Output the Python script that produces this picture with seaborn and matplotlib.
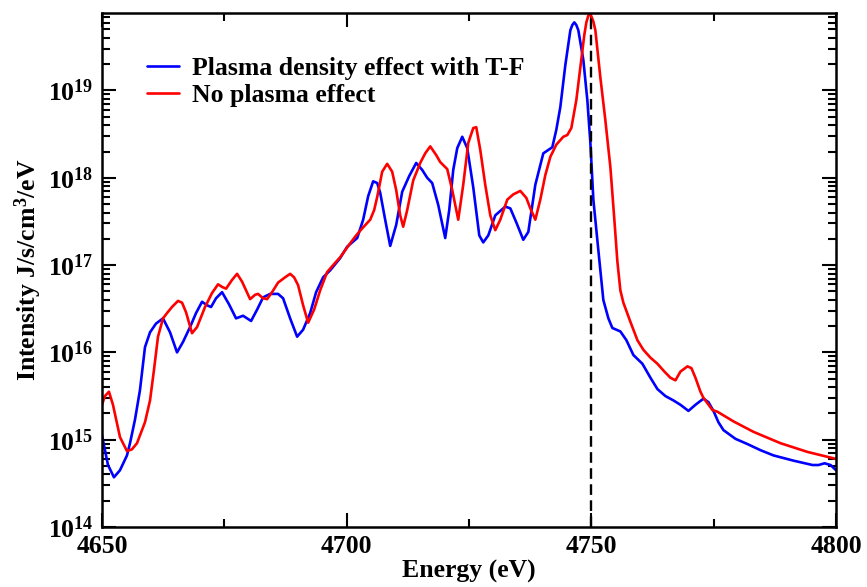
import numpy as np
import pandas as pd
import matplotlib
matplotlib.use("Agg")
import matplotlib.pyplot as plt
import seaborn as sns
from matplotlib.ticker import LogLocator, FixedLocator, LogFormatterMathtext

# Energy offsets from 4650 eV and log10(intensity)
blue_de = [0, 1.23, 2.45, 3.68, 5.11, 5.73, 6.75, 7.77, 8.79, 9.82, 11.04, 12.47, 13.91, 15.34,
           16.56, 18.0, 19.22, 20.45, 21.47, 22.29, 23.31, 24.54, 25.97, 27.40, 28.83, 30.47,
           31.70, 32.92, 34.36, 35.99, 37.01, 38.45, 39.88, 41.10, 42.54, 43.76, 45.19, 46.63,
           48.67, 50.10, 52.15, 53.37, 54.40, 55.42, 56.24, 56.85, 57.87, 58.90, 60.12, 61.35,
           62.78, 64.21, 65.44, 66.46, 67.48, 68.71, 70.14, 70.96, 71.78, 72.60, 73.62, 74.64,
           75.87, 77.10, 77.91, 78.94, 80.37, 82.41, 83.44, 84.66, 86.09, 87.12, 88.55, 90.18,
           92.02, 92.84, 93.66, 94.68, 95.71, 96.11, 96.52, 96.93, 97.34, 98.36, 99.18, 99.80,
           100.41, 101.43, 102.45, 103.48, 104.29, 105.93, 107.16, 108.59, 110.43, 112.07,
           113.50, 115.13, 116.77, 118.20, 119.84, 121.27, 122.90, 123.93, 124.95, 125.97,
           126.99, 129.45, 131.90, 134.56, 137.22, 141.31, 145.19, 146.42, 147.65, 148.88, 150.0]
blue_log = [15.05, 14.71, 14.57, 14.65, 14.82, 14.96, 15.23, 15.57, 16.06, 16.23, 16.33, 16.39,
            16.23, 16.00, 16.12, 16.29, 16.45, 16.58, 16.54, 16.52, 16.62, 16.69, 16.55, 16.39,
            16.42, 16.36, 16.49, 16.63, 16.67, 16.67, 16.62, 16.39, 16.18, 16.26, 16.45, 16.69,
            16.86, 16.94, 17.08, 17.21, 17.31, 17.52, 17.79, 17.96, 17.94, 17.83, 17.52, 17.22,
            17.46, 17.84, 18.02, 18.17, 18.09, 18.00, 17.94, 17.69, 17.31, 17.63, 18.09, 18.34,
            18.47, 18.34, 17.89, 17.34, 17.26, 17.34, 17.57, 17.67, 17.65, 17.49, 17.29, 17.38,
            17.92, 18.28, 18.35, 18.55, 18.81, 19.29, 19.69, 19.75, 19.78, 19.75, 19.69, 19.35,
            18.89, 18.40, 17.75, 17.17, 16.60, 16.39, 16.28, 16.24, 16.14, 15.97, 15.87, 15.71,
            15.58, 15.50, 15.45, 15.40, 15.33, 15.40, 15.47, 15.43, 15.33, 15.20, 15.11, 15.01,
            14.95, 14.88, 14.82, 14.76, 14.71, 14.71, 14.73, 14.71, 14.65]

red_de = [0, 0.61, 1.43, 2.25, 3.68, 5.11, 6.13, 7.16, 8.79, 9.82, 10.63, 11.45, 12.47, 13.29,
          14.31, 15.54, 16.36, 17.18, 18.40, 19.43, 21.06, 22.49, 23.72, 24.54, 25.36, 26.58,
          27.61, 28.63, 30.27, 31.29, 31.90, 32.92, 33.74, 34.76, 35.99, 37.42, 38.45, 39.26,
          40.08, 41.10, 42.13, 43.35, 44.58, 46.01, 47.24, 48.67, 49.69, 50.72, 51.94, 53.17,
          54.81, 55.62, 56.24, 57.26, 58.28, 59.30, 60.12, 60.94, 61.55, 62.37, 63.60, 65.03,
          66.05, 67.08, 68.30, 69.12, 70.55, 71.57, 72.80, 73.82, 74.85, 75.87, 76.48, 77.30,
          78.32, 79.35, 80.37, 81.39, 82.82, 84.05, 85.48, 86.71, 87.53, 88.55, 89.57, 90.59,
          91.62, 92.84, 94.27, 95.09, 95.91, 96.93, 97.75, 98.57, 98.98, 99.39, 99.70, 100.0,
          100.41, 100.82, 101.84, 102.86, 103.89, 104.70, 105.32, 105.93, 106.54, 107.98,
          109.41, 110.63, 112.07, 113.50, 114.93, 116.15, 117.18, 118.20, 119.63, 120.45,
          121.27, 122.29, 122.90, 124.74, 125.77, 129.04, 133.13, 138.65, 144.17, 150.0]
red_log = [15.40, 15.50, 15.55, 15.40, 15.03, 14.87, 14.89, 14.96, 15.20, 15.45, 15.80, 16.18,
           16.39, 16.45, 16.52, 16.59, 16.57, 16.46, 16.22, 16.29, 16.52, 16.68, 16.78, 16.75,
           16.73, 16.83, 16.90, 16.81, 16.61, 16.66, 16.67, 16.62, 16.61, 16.69, 16.80, 16.86,
           16.90, 16.86, 16.77, 16.54, 16.34, 16.49, 16.71, 16.92, 17.00, 17.09, 17.17, 17.25,
           17.34, 17.42, 17.52, 17.63, 17.78, 18.07, 18.16, 18.07, 17.86, 17.57, 17.44, 17.63,
           17.97, 18.17, 18.28, 18.36, 18.26, 18.18, 18.10, 17.86, 17.52, 17.92, 18.40, 18.57,
           18.58, 18.32, 17.92, 17.57, 17.40, 17.52, 17.75, 17.81, 17.85, 17.77, 17.65, 17.52,
           17.75, 18.03, 18.24, 18.38, 18.47, 18.49, 18.57, 18.89, 19.27, 19.64, 19.78, 19.86,
           19.87, 19.85, 19.79, 19.69, 19.15, 18.66, 18.12, 17.52, 17.04, 16.71, 16.57, 16.35,
           16.14, 16.03, 15.94, 15.87, 15.78, 15.71, 15.68, 15.78, 15.84, 15.82, 15.71, 15.55,
           15.48, 15.34, 15.32, 15.21, 15.09, 14.96, 14.86, 14.78]

e_start = 4650
marker_energy = 4750
labels = ["Plasma density effect with T-F", "No plasma effect"]
colors = ["#0000ff", "#ff0000"]
x_ticks = [4650, 4700, 4750, 4800]

df = pd.concat([
    pd.DataFrame({"Energy": e_start + np.array(blue_de), "Intensity": 10 ** np.array(blue_log),
                  "Series": labels[0]}),
    pd.DataFrame({"Energy": e_start + np.array(red_de), "Intensity": 10 ** np.array(red_log),
                  "Series": labels[1]}),
])

sns.set_style("ticks")
plt.rcParams["font.family"] = ["Liberation Serif", "DejaVu Serif"]
plt.rcParams["font.weight"] = "bold"
plt.rcParams["text.color"] = "black"
plt.rcParams["axes.labelcolor"] = "black"
plt.rcParams["xtick.color"] = "black"
plt.rcParams["ytick.color"] = "black"
plt.rcParams["mathtext.fontset"] = "custom"
plt.rcParams["mathtext.rm"] = "Liberation Serif:bold"
plt.rcParams["mathtext.bf"] = "Liberation Serif:bold"
plt.rcParams["mathtext.it"] = "Liberation Serif:bold"

fig = plt.figure(figsize=(8.67, 5.87), dpi=100)
ax = fig.add_axes([0.1176, 0.1022, 0.8467, 0.8751])

sns.lineplot(data=df, x="Energy", y="Intensity", hue="Series", palette=colors,
             estimator=None, sort=False, linewidth=1.9, ax=ax)
ax.axvline(marker_energy, color="black", linestyle=(0, (4.5, 2.3)), linewidth=1.7, zorder=3)

ax.set_yscale("log")
ax.set_xlim(4650, 4800)
ax.set_ylim(1e14, 10 ** 19.884)

ax.xaxis.set_major_locator(FixedLocator(x_ticks))
ax.xaxis.set_minor_locator(FixedLocator([4675, 4725, 4775]))
ax.yaxis.set_major_locator(LogLocator(base=10, numticks=20))
ax.yaxis.set_minor_locator(LogLocator(base=10, subs=np.arange(2, 10), numticks=20))
ax.yaxis.set_major_formatter(LogFormatterMathtext())

ax.tick_params(which="both", direction="in", top=True, right=True, width=1.5,
               color="black", labelcolor="black")
ax.tick_params(which="major", length=10, labelsize=18.5, pad=6)
ax.tick_params(which="minor", length=6)
for lab in ax.get_xticklabels() + ax.get_yticklabels():
    lab.set_fontweight("bold")
for s in ax.spines.values():
    s.set_linewidth(1.8)
    s.set_color("black")

ax.set_xlabel("Energy (eV)", fontsize=18.5, fontweight="bold", labelpad=1, color="black")
ax.set_ylabel(r"Intensity J/s/cm$^{3}$/eV", fontsize=18.5, fontweight="bold", labelpad=3,
              color="black")

leg = ax.legend(loc="upper left", bbox_to_anchor=(0.030, 0.96), frameon=False,
                handlelength=1.25, handletextpad=0.5, labelspacing=0.15,
                prop={"weight": "bold", "size": 18.5})
for t in leg.get_texts():
    t.set_color("black")

fig.savefig("out.png", dpi=100)
